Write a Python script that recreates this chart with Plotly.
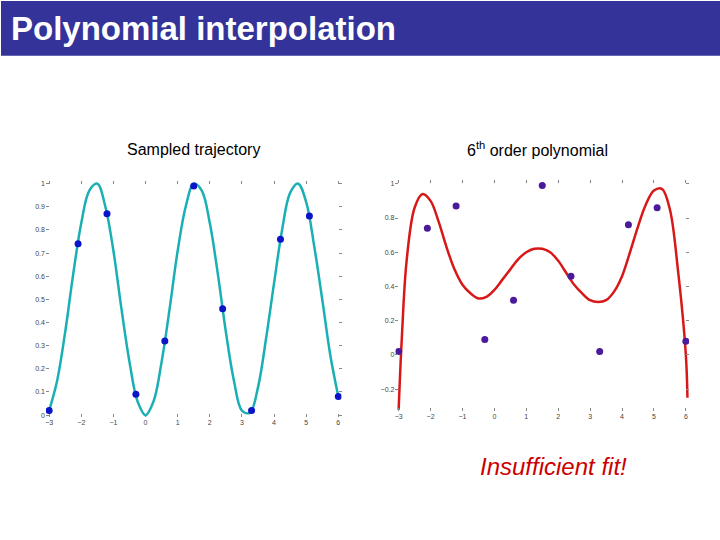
import plotly.graph_objects as go

sample_x = [-3, -2.1, -1.2, -0.3, 0.6, 1.5, 2.4, 3.3, 4.2, 5.1, 6.0]
sample_y = [0.02, 0.74, 0.87, 0.09, 0.32, 0.99, 0.46, 0.02, 0.76, 0.86, 0.08]

traj_x = [-3, -2.75, -2.5, -2.25, -2, -1.75, -1.5, -1.25, -1, -0.75, -0.5, -0.25, 0,
          0.25, 0.5, 0.75, 1, 1.25, 1.5, 1.75, 2, 2.25, 2.5, 2.75, 3, 3.25, 3.5,
          3.75, 4, 4.25, 4.5, 4.75, 5, 5.25, 5.5, 5.75, 6]
traj_y = [0.02, 0.15, 0.36, 0.61, 0.83, 0.97, 1.0, 0.9, 0.71, 0.46, 0.23, 0.06, 0.0,
          0.06, 0.23, 0.46, 0.71, 0.9, 1.0, 0.97, 0.83, 0.61, 0.36, 0.15, 0.02, 0.01, 0.12,
          0.33, 0.57, 0.8, 0.96, 1.0, 0.92, 0.73, 0.5, 0.26, 0.08]

poly_x = [-3, -2.9, -2.75, -2.5, -2.25, -2, -1.75, -1.5, -1.25, -1, -0.75, -0.5, -0.25, 0,
          0.25, 0.5, 0.75, 1, 1.25, 1.5, 1.75, 2, 2.25, 2.5, 2.75, 3, 3.25, 3.5, 3.75,
          4, 4.25, 4.5, 4.75, 5, 5.25, 5.5, 5.75, 6, 6.05]
poly_y = [-0.32, 0.1, 0.55, 0.86, 0.94, 0.9, 0.78, 0.63, 0.5, 0.41, 0.36, 0.33, 0.34, 0.38,
          0.44, 0.5, 0.56, 0.6, 0.62, 0.62, 0.6, 0.55, 0.48, 0.41, 0.36, 0.32, 0.31, 0.32, 0.37,
          0.46, 0.6, 0.75, 0.88, 0.96, 0.97, 0.85, 0.5, 0.0, -0.25]

left_yticks = [0, 0.1, 0.2, 0.3, 0.4, 0.5, 0.6, 0.7, 0.8, 0.9, 1]
right_yticks = [-0.2, 0, 0.2, 0.4, 0.6, 0.8, 1]
xticks = [-3, -2, -1, 0, 1, 2, 3, 4, 5, 6]

W, H = 720, 540
fig = go.Figure()
fig.add_trace(go.Scatter(x=traj_x, y=traj_y, mode="lines", line=dict(color="#1aafb5", width=2.5, shape="spline"), xaxis="x", yaxis="y"))
fig.add_trace(go.Scatter(x=sample_x, y=sample_y, mode="markers", marker=dict(color="#0a14c8", size=7), xaxis="x", yaxis="y"))
fig.add_trace(go.Scatter(x=poly_x, y=poly_y, mode="lines", line=dict(color="#d81818", width=2.5, shape="spline"), xaxis="x2", yaxis="y2"))
fig.add_trace(go.Scatter(x=sample_x, y=sample_y, mode="markers", marker=dict(color="#4a1a9a", size=7), xaxis="x2", yaxis="y2"))

ax = dict(showgrid=False, zeroline=False, showline=False, ticks="inside", ticklen=3,
          tickcolor="#888", tickfont=dict(size=7, color="#444", family="Arial"), mirror="ticks")
fig.update_layout(
    width=W, height=H, margin=dict(l=0, r=0, t=0, b=0), showlegend=False,
    plot_bgcolor="white", paper_bgcolor="white",
    xaxis=dict(ax, domain=[45/W, 341/W], range=[-3.1, 6.1], tickvals=xticks, anchor="y"),
    yaxis=dict(ax, domain=[1-418/H, 1-181/H], range=[-0.01, 1.01], tickvals=left_yticks, anchor="x"),
    xaxis2=dict(ax, domain=[395/W, 689/W], range=[-3.1, 6.1], tickvals=xticks, anchor="y2"),
    yaxis2=dict(ax, domain=[1-412/H, 1-180/H], range=[-0.33, 1.02], tickvals=right_yticks, anchor="x2"),
    shapes=[dict(type="rect", xref="paper", yref="paper", x0=0, x1=1, y0=1-55/H, y1=1,
                 fillcolor="#333399", line=dict(width=0), layer="below")],
    annotations=[
        dict(text="<b>Polynomial interpolation</b>", xref="paper", yref="paper", x=8/W, y=1-28/H,
             xanchor="left", yanchor="middle", showarrow=False, font=dict(size=33, color="white", family="Arial")),
        dict(text="Sampled trajectory", xref="paper", yref="paper", x=193/W, y=1-149/H,
             xanchor="center", yanchor="middle",
             showarrow=False, font=dict(size=16, color="black", family="Arial")),
        dict(text="6<sup>th</sup> order polynomial", xref="paper", yref="paper", x=537/W, y=1-149/H,
             xanchor="center", yanchor="middle",
             showarrow=False, font=dict(size=16, color="black", family="Arial")),
        dict(text="<i>Insufficient fit!</i>", xref="paper", yref="paper", x=553/W, y=1-467/H,
             xanchor="center", yanchor="middle",
             showarrow=False, font=dict(size=24, color="#cc0000", family="Arial")),
    ],
)
fig.write_html("out.html", config={"displayModeBar": False},
               post_script="document.body.style.margin='0';document.body.style.overflow='hidden';")
